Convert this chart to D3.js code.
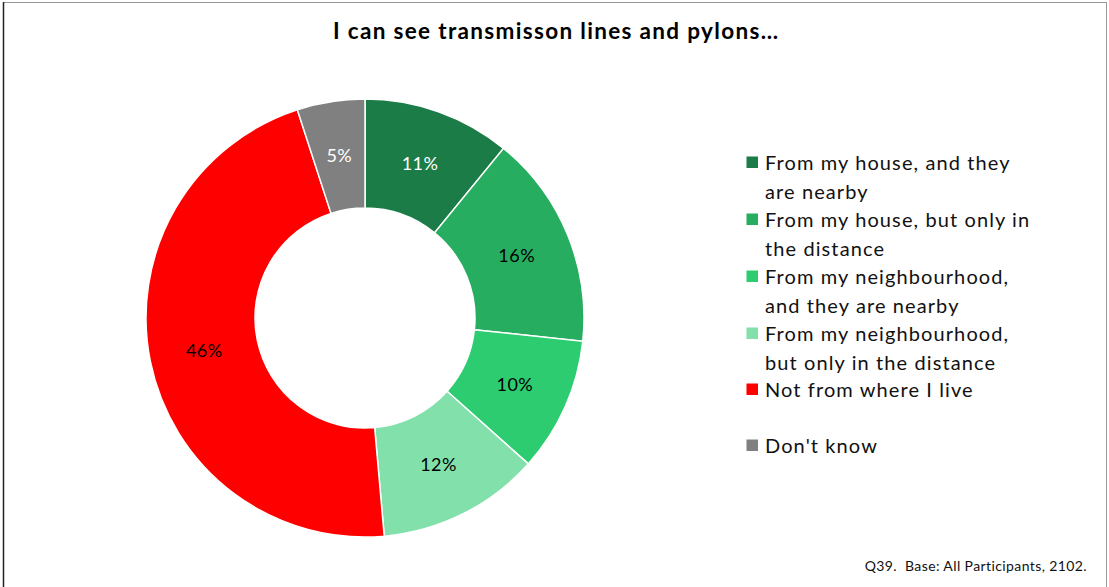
<!DOCTYPE html>
<html>
<head>
<meta charset="utf-8">
<script src="https://cdn.jsdelivr.net/npm/d3@7"></script>
<style>
  body { margin: 0; background: #fff; }
  text { font-family: Lato, "Open Sans", sans-serif; white-space: pre; }
</style>
</head>
<body>
<svg width="1109" height="587"></svg>
<script>
var categories = [
  "From my house, and they are nearby",
  "From my house, but only in the distance",
  "From my neighbourhood, and they are nearby",
  "From my neighbourhood, but only in the distance",
  "Not from where I live",
  "Don't know"
];
var legendLines = [
  ["From my house, and they", "are nearby"],
  ["From my house, but only in", "the distance"],
  ["From my neighbourhood,", "and they are nearby"],
  ["From my neighbourhood,", "but only in the distance"],
  ["Not from where I live"],
  ["Don't know"]
];
// shares; labels round them
var values = [10.9, 15.8, 9.9, 12.0, 46.4, 5.0];
var colors = ["#1b7c47", "#27ad60", "#2ecc71", "#82e0aa", "#ff0000", "#808080"];
var labelColors = ["#fff", "#000", "#000", "#000", "#000", "#fff"];

var svg = d3.select("svg");

// frame
svg.append("rect")
    .attr("x", 3.5).attr("y", 2.5)
    .attr("width", 1103).attr("height", 600)
    .attr("fill", "none")
    .attr("stroke", "#999")
    .attr("stroke-width", 1);
svg.append("line")
    .attr("x1", 3.5).attr("x2", 3.5).attr("y1", 2).attr("y2", 587)
    .attr("stroke", "#222").attr("stroke-width", 1.5);

svg.append("text")
    .attr("x", 333).attr("y", 39)
    .attr("font-weight", "bold")
    .attr("font-size", 22.5)
    .attr("textLength", 445)
    .attr("lengthAdjust", "spacing")
    .text("I can see transmisson lines and pylons…");

var cx = 365, cy = 318, outerR = 219, innerR = 110;

var pie = d3.pie().sort(null).value(function(d) { return d; });
var arc = d3.arc().innerRadius(innerR).outerRadius(outerR);
var labelArc = d3.arc().innerRadius(164).outerRadius(164);

var g = svg.append("g").attr("transform", "translate(" + cx + "," + cy + ")");

var arcs = pie(values);

g.selectAll("path")
  .data(arcs)
  .enter().append("path")
    .attr("d", arc)
    .attr("fill", function(d, i) { return colors[i]; })
    .attr("stroke", "#fff")
    .attr("stroke-width", 1.5);

g.selectAll(".lbl")
  .data(arcs)
  .enter().append("text")
    .attr("class", "lbl")
    .attr("transform", function(d) { return "translate(" + labelArc.centroid(d) + ")"; })
    .attr("dy", "0.35em")
    .attr("text-anchor", "middle")
    .attr("font-size", 18)
    .attr("letter-spacing", 0.5)
    .attr("fill", function(d, i) { return labelColors[i]; })
    .text(function(d) { return Math.round(d.data) + "%"; });

// legend
var legendY = [163, 220, 277, 334, 390, 446];
var lg = svg.append("g");
categories.forEach(function(c, i) {
  lg.append("rect")
      .attr("x", 746.5).attr("y", legendY[i] - 6.5)
      .attr("width", 11.5).attr("height", 11.5)
      .attr("fill", colors[i]);
  legendLines[i].forEach(function(line, j) {
    lg.append("text")
        .attr("x", 765)
        .attr("y", legendY[i] + j * 28.5)
        .attr("dy", "0.35em")
        .attr("font-size", 20)
        .attr("letter-spacing", 1.1)
        .attr("fill", "#111")
        .text(line);
  });
});

svg.append("text")
    .attr("x", 1087).attr("y", 571)
    .attr("text-anchor", "end")
    .attr("font-size", 14)
    .attr("letter-spacing", 0.4)
    .attr("fill", "#111")
    .text("Q39.  Base: All Participants, 2102.");
</script>
</body>
</html>
